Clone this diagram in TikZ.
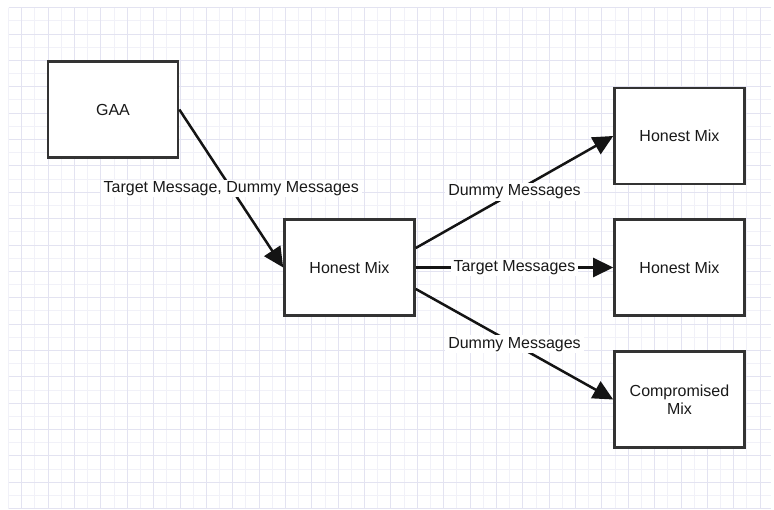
\documentclass[tikz,border=0pt]{standalone}
\usepackage{fontspec}
\setmainfont{Liberation Sans}
\usetikzlibrary{arrows.meta}
\definecolor{gridminor}{RGB}{241,241,248}
\definecolor{gridmajor}{RGB}{227,227,241}
\definecolor{boxline}{RGB}{51,51,51}
\definecolor{inkcol}{RGB}{25,25,25}

\begin{document}
\begin{tikzpicture}[x=1pt,y=-1pt,
  mixbox/.style={draw=boxline, line width=2.6pt, fill=white,
    minimum width=130pt, minimum height=96pt, inner sep=0pt,
    font=\fontsize{16}{18}\selectfont, text=inkcol, align=center},
  flow/.style={draw=black!92, line width=2.5pt,
    -{Triangle[length=20pt,width=19pt]}},
  flowlabel/.style={fill=white, inner xsep=3pt, inner ysep=1.6pt,
    font=\fontsize{16}{18}\selectfont, text=inkcol}]

\useasboundingbox (0,0) rectangle (774,510);
\fill[white] (0,0) rectangle (774,510);

% background grid: light lines every cell, stronger every second one
\foreach \i in {0,...,57} {
  \draw[gridminor, line width=0.8pt] ({8.5+13.185*\i},7.6) -- ({8.5+13.185*\i},508.6);
}
\foreach \j in {0,...,38} {
  \draw[gridminor, line width=0.8pt] (8.5,{7.6+13.185*\j}) -- (771.0,{7.6+13.185*\j});
}
\foreach \i in {1,3,...,57} {
  \draw[gridmajor, line width=0.8pt] ({8.5+13.185*\i},7.6) -- ({8.5+13.185*\i},508.6);
}
\foreach \j in {0,2,...,38} {
  \draw[gridmajor, line width=0.8pt] (8.5,{7.6+13.185*\j}) -- (771.0,{7.6+13.185*\j});
}

% boxes
\node[mixbox] (gaa)  at (113,109.5)   {GAA};
\node[mixbox] (hm)   at (349.5,267.5) {Honest Mix};
\node[mixbox] (top)  at (679.5,136)   {Honest Mix};
\node[mixbox] (mid)  at (679.5,267.5) {Honest Mix};
\node[mixbox] (comp) at (679.5,399.5) {Compromised\\Mix};

% message flows
\draw[flow] (gaa.east) -- node[flowlabel] {Target Message, Dummy Messages} (hm.west);
\draw[flow] ([yshift=19.5pt]hm.east) -- node[flowlabel] {Dummy Messages} (top.west);
\draw[flow] (hm.east) -- node[flowlabel] {Target Messages} (mid.west);
\draw[flow] ([yshift=-21.5pt]hm.east) -- node[flowlabel] {Dummy Messages} (comp.west);
\end{tikzpicture}
\end{document}
